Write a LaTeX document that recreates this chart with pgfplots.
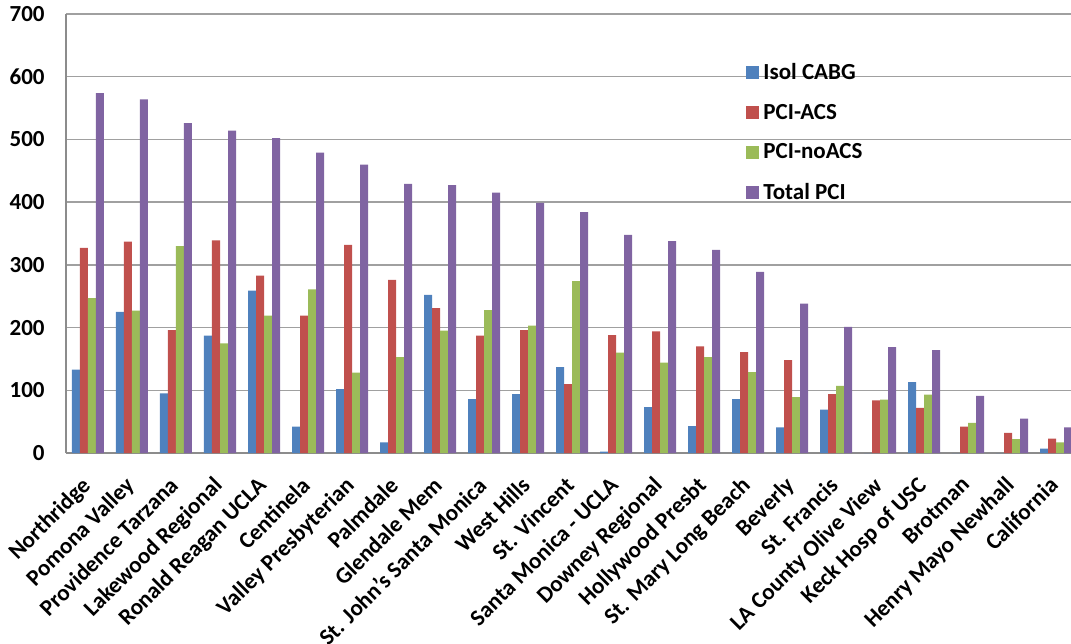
\documentclass[border=0pt]{standalone}
\usepackage{pgfplots}
\pgfplotsset{compat=1.18}
\usepackage{pgfplotstable}
\usepackage{fontspec}
\setmainfont{Carlito}
\definecolor{cblue}{HTML}{4F81BD}
\definecolor{cred}{HTML}{C0504D}
\definecolor{cgreen}{HTML}{9BBB59}
\definecolor{cpurple}{HTML}{8064A2}
\definecolor{gridgray}{HTML}{A0A0A0}
\definecolor{axgray}{HTML}{8C8C8C}
\pgfplotstableread{
x cabg acs noacs total
0 133 327 247 574
1 225 337 227 564
2 95 196 330 526
3 187 339 175 514
4 259 283 219 502
5 42 219 261 479
6 102 332 128 460
7 17 276 153 429
8 252 231 195 427
9 86 187 228 415
10 94 196 203 399
11 137 110 274 384
12 2 188 160 348
13 73 194 144 338
14 43 170 153 324
15 86 161 129 289
16 41 148 89 238
17 69 94 107 201
18 0 84 85 169
19 113 72 93 164
20 0 42 48 91
21 0 32 22 55
22 7 23 17 41
}\datatable
\begin{document}
\begin{tikzpicture}
\begin{axis}[
  at={(0pt,0pt)}, anchor=south west,
  scale only axis,
  width=506pt, height=219.5pt,
  xmin=-0.5, xmax=22.5,
  ymin=0, ymax=700,
  ytick={0,100,...,700},
  xtick=data,
  xticklabels={Northridge,Pomona Valley,Providence Tarzana,Lakewood Regional,Ronald Reagan UCLA,Centinela,Valley Presbyterian,Palmdale,Glendale Mem,St. John's Santa Monica,West Hills,St. Vincent,Santa Monica - UCLA,Downey Regional,Hollywood Presbt,St. Mary Long Beach,Beverly,St. Francis,LA County Olive View,Keck Hosp of USC,Brotman,Henry Mayo Newhall,California},
  ybar=0pt, bar width=4pt,
  axis x line*=bottom, axis y line*=left,
  x axis line style={draw=axgray, line width=1.25pt, -},
  y axis line style={draw=axgray, line width=0.75pt, -},
  major tick length=0pt,
  ymajorgrids, grid style={draw=gridgray, line width=0.75pt},
  /pgf/number format/assume math mode=true,
  ticklabel style={font=\fontsize{11.5}{13}\selectfont\bfseries},
  yticklabel style={anchor=east, inner sep=0pt, xshift=-10.5pt},
  xticklabel style={xshift=-4pt, yshift=-11pt, rotate=45, anchor=north east, inner sep=0pt},
  legend style={draw=none, fill=none, at={(0.672,0.898)}, anchor=north west,
    font=\fontsize{11.5}{13}\selectfont\bfseries, row sep=6.8pt, inner sep=0pt,
    cells={anchor=west}},
  legend image code/.code={\fill[#1] (0pt,-3.25pt) rectangle (6.5pt,3.25pt);},
  every axis plot/.append style={draw=none},
]
\addplot[fill=cblue] table[x=x,y=cabg]{\datatable};
\addplot[fill=cred] table[x=x,y=acs]{\datatable};
\addplot[fill=cgreen] table[x=x,y=noacs]{\datatable};
\addplot[fill=cpurple] table[x=x,y=total]{\datatable};
\legend{Isol CABG,PCI-ACS,PCI-noACS,Total PCI}
\end{axis}
\pgfresetboundingbox
\useasboundingbox (-33pt,-95pt) rectangle (502.5pt,226.5pt);
\end{tikzpicture}
\end{document}
